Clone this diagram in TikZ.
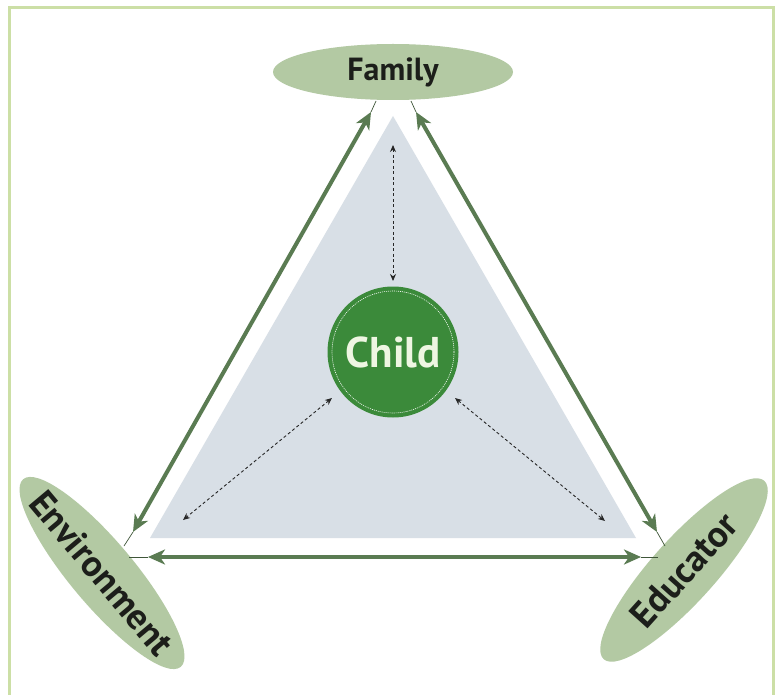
\documentclass[tikz,border=0pt]{standalone}
\usepackage{fontspec}
\newfontfamily\labfont{PT Sans}
\usetikzlibrary{shapes.geometric,arrows.meta}
\definecolor{framecol}{HTML}{CCDFA6}
\definecolor{ellcol}{HTML}{B3C9A3}
\definecolor{arrcol}{HTML}{5A7B52}
\definecolor{tricol}{HTML}{D8DFE6}
\definecolor{childcol}{HTML}{3B8A3A}
\definecolor{childtxt}{HTML}{EEF6E2}
\definecolor{txtcol}{HTML}{1C1E1A}
\tikzset{
  party/.style={ellipse, fill=ellcol, inner xsep=-26pt, inner ysep=0pt, text=txtcol, font=\labfont\bfseries\fontsize{37}{37}\selectfont},
  relarrow/.style={draw=arrcol, line width=4pt, {Stealth[length=17pt,width=15pt,inset=5pt]}-{Stealth[length=17pt,width=15pt,inset=5pt]}},
  thinlink/.style={draw=arrcol!70!black, line width=0.7pt},
  infl/.style={draw=black!85, line width=0.9pt, dash pattern=on 3pt off 2.5pt, {Stealth[length=7pt,width=6pt]}-{Stealth[length=7pt,width=6pt]}}
}
\begin{document}
\begin{tikzpicture}[x=1pt,y=-1pt]
\useasboundingbox (0,0) rectangle (778,695);
\fill[white] (0,0) rectangle (778,695);
% frame
\draw[framecol, line width=2.5pt] (9.5,700) -- (9.5,7.5) -- (773.5,7.5) -- (773.5,700);
% grey triangle
\fill[tricol] (393,116) -- (150,538) -- (636,538) -- cycle;
% party nodes
\node[party, minimum width=240pt, minimum height=56pt, font=\labfont\bfseries\fontsize{32}{32}\selectfont] (fam) at (393,72) {Family};
\node[party, minimum width=245pt, minimum height=64pt, rotate=-50] (env) at (102,573) {Environment};
\node[party, minimum width=240pt, minimum height=64pt, rotate=48] (edu) at (684,570) {Educator};
% child
\node[circle, fill=childcol, minimum size=131pt, inner sep=0pt, text=childtxt, font=\labfont\bfseries\fontsize{43}{43}\selectfont] (child) at (393,352) {Child};
\draw[white, line width=0.6pt, dash pattern=on 1pt off 1pt] (child.center) circle (61pt);
% coordinates for arrow ends
\coordinate (famL) at (371,112);
\coordinate (famR) at (416,112);
\coordinate (envT) at (133,532);
\coordinate (envB) at (148,557);
\coordinate (eduT) at (657,532);
\coordinate (eduB) at (641,557);
\coordinate (famLe) at (376,101);
\coordinate (famRe) at (411,101);
\coordinate (envTe) at (124,546);
\coordinate (envBe) at (129,557);
\coordinate (eduTe) at (665,546);
\coordinate (eduBe) at (658,557);
\draw[thinlink] (famL) -- (famLe);
\draw[thinlink] (famR) -- (famRe);
\draw[thinlink] (envT) -- (envTe);
\draw[thinlink] (envB) -- (envBe);
\draw[thinlink] (eduT) -- (eduTe);
\draw[thinlink] (eduB) -- (eduBe);
\draw[relarrow] (envT) -- (famL);
\draw[relarrow] (famR) -- (eduT);
\draw[relarrow] (envB) -- (eduB);
% influence arrows
\coordinate (d1) at (393,145);
\coordinate (d2) at (393,281);
\coordinate (d3) at (332,398);
\coordinate (d4) at (183,520);
\coordinate (d5) at (455,398);
\coordinate (d6) at (605,521);
\draw[infl] (d1) -- (d2);
\draw[infl] (d3) -- (d4);
\draw[infl] (d5) -- (d6);
\end{tikzpicture}
\end{document}
